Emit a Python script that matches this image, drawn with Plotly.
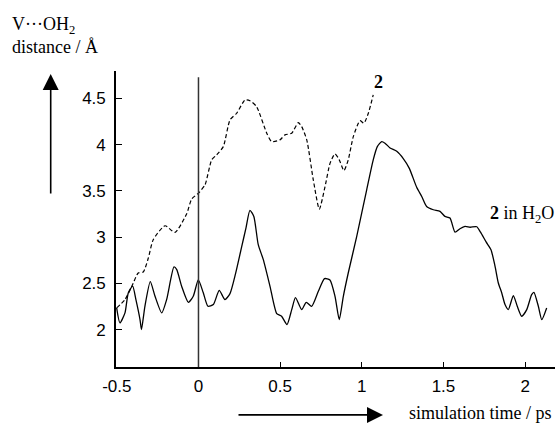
import plotly.graph_objects as go

# ---- data ----
t_gas = [-0.501, -0.450, -0.399, -0.369, -0.338, -0.307, -0.277, -0.205, -0.144, -0.072,
         -0.042, 0.000, 0.040, 0.081, 0.111, 0.152, 0.193, 0.234, 0.285, 0.315,
         0.356, 0.418, 0.448, 0.499, 0.530, 0.571, 0.611, 0.632, 0.663, 0.703,
         0.740, 0.775, 0.806, 0.836, 0.862, 0.891, 0.917, 0.948, 0.989, 1.013,
         1.040, 1.070]
d_gas = [2.234, 2.324, 2.504, 2.612, 2.623, 2.774, 2.972, 3.123, 3.051, 3.253,
         3.411, 3.476, 3.566, 3.836, 3.890, 3.979, 4.268, 4.340, 4.484, 4.476,
         4.411, 4.124, 4.033, 4.052, 4.106, 4.124, 4.239, 4.195, 4.052, 3.620,
         3.303, 3.548, 3.800, 3.901, 3.836, 3.720, 3.836, 4.087, 4.260, 4.232,
         4.340, 4.538]

t_water = [-0.501, -0.481, -0.450, -0.430, -0.403, -0.383, -0.358, -0.349, -0.328, -0.295,
           -0.266, -0.225, -0.195, -0.150, -0.133, -0.103, -0.062, -0.032, -0.001, 0.029,
           0.058, 0.091, 0.127, 0.162, 0.193, 0.227, 0.265, 0.291, 0.315, 0.339,
           0.366, 0.397, 0.438, 0.479, 0.509, 0.542, 0.571, 0.594, 0.632, 0.660,
           0.693, 0.734, 0.772, 0.805, 0.836, 0.862, 0.887, 0.917, 0.969, 1.030,
           1.070, 1.095, 1.122, 1.142, 1.173, 1.214, 1.254, 1.291, 1.336, 1.367,
           1.397, 1.438, 1.479, 1.509, 1.540, 1.571, 1.601, 1.632, 1.663, 1.704,
           1.727, 1.762, 1.791, 1.816, 1.836, 1.857, 1.877, 1.897, 1.928, 1.952,
           1.979, 2.010, 2.040, 2.054, 2.081, 2.102, 2.132]
d_water = [2.234, 2.072, 2.180, 2.396, 2.470, 2.324, 2.108, 2.000, 2.252, 2.518,
           2.360, 2.180, 2.324, 2.677, 2.648, 2.468, 2.295, 2.360, 2.537, 2.400,
           2.252, 2.270, 2.424, 2.324, 2.389, 2.605, 2.900, 3.101, 3.290, 3.224,
           2.918, 2.756, 2.468, 2.173, 2.144, 2.054, 2.216, 2.346, 2.216, 2.295,
           2.252, 2.414, 2.551, 2.537, 2.360, 2.108, 2.360, 2.612, 3.008, 3.512,
           3.836, 3.979, 4.033, 4.016, 3.965, 3.928, 3.850, 3.744, 3.539, 3.440,
           3.332, 3.296, 3.278, 3.224, 3.206, 3.053, 3.091, 3.116, 3.107, 3.112,
           3.053, 2.945, 2.864, 2.684, 2.504, 2.396, 2.270, 2.216, 2.367, 2.252,
           2.144, 2.216, 2.378, 2.403, 2.252, 2.108, 2.234]

x_ticks = [-0.5, 0, 0.5, 1, 1.5, 2]
x_tick_labels = ["-0.5", "0", "0.5", "1", "1.5", "2"]
y_ticks = [2, 2.5, 3, 3.5, 4, 4.5]
y_tick_labels = ["2", "2.5", "3", "3.5", "4", "4.5"]

label_gas = "<b>2</b>"
label_water = "<b>2</b> in H<sub>2</sub>O"
y_title = "V···OH<sub>2</sub><br>distance / Å"
x_title = "simulation time / ps"

serif = "Liberation Serif, Times New Roman, serif"
sans = "Liberation Sans, Arial, sans-serif"

fig = go.Figure()
fig.add_trace(go.Scatter(x=t_gas, y=d_gas, mode="lines",
                         line=dict(color="black", width=1.2, dash="4px,2.5px", shape="spline", smoothing=0.6),
                         hoverinfo="skip"))
fig.add_trace(go.Scatter(x=t_water, y=d_water, mode="lines",
                         line=dict(color="black", width=1.3, shape="spline", smoothing=0.6),
                         hoverinfo="skip"))

# vertical reference line at t = 0
fig.add_shape(type="line", xref="x", yref="y", x0=0, x1=0, y0=1.595, y1=4.73,
              line=dict(color="#333333", width=1.5))

W, H = 559, 423
ml, mr, mt, mb = 116, 4, 71, 55.5
pw, ph = W - ml - mr, H - mt - mb


def px(xp):
    return (xp - ml) / pw


def py(yp):
    return (H - mb - yp) / ph


annotations = [
    dict(text=y_title, xref="paper", yref="paper", x=px(10), y=py(12), xanchor="left", yanchor="top",
         align="left", showarrow=False, font=dict(family=serif, size=18, color="black")),
    dict(text=x_title, xref="paper", yref="paper", x=px(407), y=py(414), xanchor="left", yanchor="middle",
         showarrow=False, font=dict(family=serif, size=18, color="black")),
    dict(text=label_gas, xref="x", yref="y", x=1.102, y=4.678, xanchor="center", yanchor="middle",
         showarrow=False, font=dict(family=serif, size=18, color="black")),
    dict(text=label_water, xref="x", yref="y", x=1.773, y=3.24, xanchor="left", yanchor="middle",
         showarrow=False, font=dict(family=serif, size=18, color="black")),
    # up arrow
    dict(text="", xref="paper", yref="paper", x=px(50.7), y=py(74), ax=0, ay=121,
         showarrow=True, arrowhead=2, arrowsize=2, arrowwidth=1.6, arrowcolor="black"),
    # right arrow
    dict(text="", xref="paper", yref="paper", x=px(383), y=py(415.5), ax=-146, ay=0,
         showarrow=True, arrowhead=2, arrowsize=2, arrowwidth=1.6, arrowcolor="black"),
]

fig.update_layout(
    width=W, height=H,
    margin=dict(l=ml, r=mr, t=mt, b=mb, pad=0),
    paper_bgcolor="white", plot_bgcolor="white",
    showlegend=False,
    annotations=annotations,
    xaxis=dict(range=[-0.505, 2.183], tickvals=x_ticks, ticktext=x_tick_labels,
               ticks="inside", ticklen=5, tickwidth=1.3, tickcolor="black",
               showline=True, linecolor="black", linewidth=1.6,
               showgrid=False, zeroline=False, ticklabelstandoff=3,
               tickfont=dict(family=sans, size=17, color="black")),
    yaxis=dict(range=[1.595, 4.797], tickvals=y_ticks, ticktext=y_tick_labels,
               ticks="inside", ticklen=6, tickwidth=1.3, tickcolor="black",
               showline=True, linecolor="black", linewidth=1.6,
               showgrid=False, zeroline=False, ticklabelstandoff=5,
               tickfont=dict(family=sans, size=17, color="black")),
)

fig.write_html("out.html", config={"displayModeBar": False},
               post_script="document.body.style.margin='0';document.body.style.padding='0';")
